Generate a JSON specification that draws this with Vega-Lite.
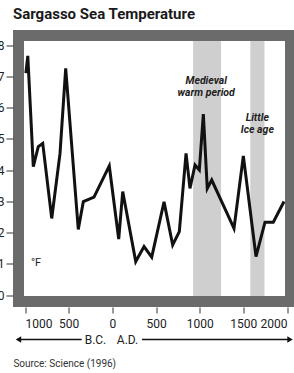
{
  "$schema": "https://vega.github.io/schema/vega-lite/v6.json",
  "autosize": {"type": "none"},
  "width": 272,
  "height": 266,
  "padding": {"left": 18.5, "top": 35.5, "right": 3.5, "bottom": 71.5},
  "background": "white",
  "config": {
    "view": {"stroke": "#6b6b6b", "strokeWidth": 11, "fill": "white"},
    "font": "Roboto",
    "axis": {"grid": false, "domain": false, "tickColor": "#333", "labelColor": "#222", "labelFont": "Roboto", "title": null}
  },
  "title": {
    "text": "Sargasso Sea Temperature",
    "anchor": "start",
    "frame": "group",
    "dx": -5.5,
    "offset": 14,
    "font": "Roboto",
    "fontSize": 15,
    "fontWeight": "bold",
    "color": "#1a1a1a"
  },
  "encoding": {
    "x": {"field": "year", "type": "quantitative", "scale": {"domain": [-1000, 2000], "range": [6.5, 268.5], "nice": false, "zero": false},
          "axis": {"values": [-1000, -500, 0, 500, 1000, 1500, 2000], "labelExpr": "abs(datum.value)", "offset": 5.5, "tickSize": 6, "labelPadding": 5, "labelFontSize": 12, "labelOverlap": false}},
    "y": {"field": "temp", "type": "quantitative", "scale": {"domain": [70, 78], "range": [259.5, 9.5], "nice": false, "zero": false},
          "axis": {"values": [70, 71, 72, 73, 74, 75, 76, 77, 78], "offset": 5.5, "tickSize": 7, "labelPadding": 2, "labelFontSize": 12, "labelOverlap": false}}
  },
  "layer": [
    {
      "data": {"values": [
        {"period": "Medieval warm period", "year": 925, "year2": 1245, "temp": 78.13, "temp2": 69.97},
        {"period": "Little ice age", "year": 1580, "year2": 1742, "temp": 78.13, "temp2": 69.97}
      ]},
      "mark": {"type": "rect", "color": "#cfcfcf"},
      "encoding": {
        "x2": {"field": "year2"},
        "y2": {"field": "temp2"}
      }
    },
    {
      "data": {"values": [
        {"year": -990, "temp": 77.1},
        {"year": -968, "temp": 77.65},
        {"year": -905, "temp": 74.11},
        {"year": -848, "temp": 74.75},
        {"year": -797, "temp": 74.85},
        {"year": -694, "temp": 72.45},
        {"year": -599, "temp": 74.53},
        {"year": -534, "temp": 77.25},
        {"year": -390, "temp": 72.1},
        {"year": -332, "temp": 72.99},
        {"year": -210, "temp": 73.13},
        {"year": -35, "temp": 74.13},
        {"year": 73, "temp": 71.79},
        {"year": 119, "temp": 73.31},
        {"year": 268, "temp": 71.07},
        {"year": 363, "temp": 71.55},
        {"year": 451, "temp": 71.21},
        {"year": 592, "temp": 72.98},
        {"year": 691, "temp": 71.6},
        {"year": 767, "temp": 72.03},
        {"year": 844, "temp": 74.53},
        {"year": 889, "temp": 73.41},
        {"year": 947, "temp": 74.16},
        {"year": 996, "temp": 74.0},
        {"year": 1042, "temp": 75.79},
        {"year": 1087, "temp": 73.41},
        {"year": 1138, "temp": 73.68},
        {"year": 1252, "temp": 72.99},
        {"year": 1393, "temp": 72.13},
        {"year": 1500, "temp": 74.45},
        {"year": 1645, "temp": 71.23},
        {"year": 1748, "temp": 72.33},
        {"year": 1843, "temp": 72.33},
        {"year": 1966, "temp": 72.99}
      ]},
      "mark": {"type": "line", "color": "#111", "strokeWidth": 3, "strokeJoin": "miter"},
      "encoding": {}
    },
    {
      "data": {"values": [
        {"label": "Medieval\nwarm period", "year": 1075, "temp": 76.85},
        {"label": "Little\nIce age", "year": 1660, "temp": 75.68}
      ]},
      "mark": {"type": "text", "font": "Roboto", "fontSize": 10.5, "fontWeight": "bold", "fontStyle": "italic", "lineBreak": "\n", "lineHeight": 12, "align": "center", "baseline": "middle", "color": "#222"},
      "encoding": {
        "text": {"field": "label"}
      }
    },
    {
      "data": {"values": [{"label": "°F", "year": -874, "temp": 71.03}]},
      "mark": {"type": "text", "font": "Roboto", "fontSize": 11, "align": "center", "baseline": "middle", "color": "#222"},
      "encoding": {
        "text": {"field": "label"}
      }
    },
    {
      "data": {"values": [
        {"year": -1085, "year2": -351, "temp": 68.576},
        {"year": 340, "year2": 2030, "temp": 68.576}
      ]},
      "mark": {"type": "rule", "color": "#111", "strokeWidth": 1.3},
      "encoding": {
        "x2": {"field": "year2"}
      }
    },
    {
      "data": {"values": [
        {"year": -1075, "temp": 68.576, "dir": "left"},
        {"year": 2035, "temp": 68.576, "dir": "right"}
      ]},
      "mark": {"type": "point", "filled": true, "color": "#111", "size": 40, "opacity": 1},
      "encoding": {
        "shape": {"field": "dir", "type": "nominal", "scale": {"domain": ["left", "right"], "range": ["triangle-left", "triangle-right"]}, "legend": null}
      }
    },
    {
      "data": {"values": [
        {"label": "B.C.", "year": -193, "temp": 68.56},
        {"label": "A.D.", "year": 174, "temp": 68.56}
      ]},
      "mark": {"type": "text", "font": "Roboto", "fontSize": 12, "align": "center", "baseline": "middle", "color": "#222"},
      "encoding": {
        "text": {"field": "label"}
      }
    },
    {
      "data": {"values": [{"label": "Source: Science (1996)", "year": -1133, "temp": 67.8}]},
      "mark": {"type": "text", "font": "Roboto", "fontSize": 10, "align": "left", "baseline": "middle", "color": "#333"},
      "encoding": {
        "text": {"field": "label"}
      }
    }
  ]
}
